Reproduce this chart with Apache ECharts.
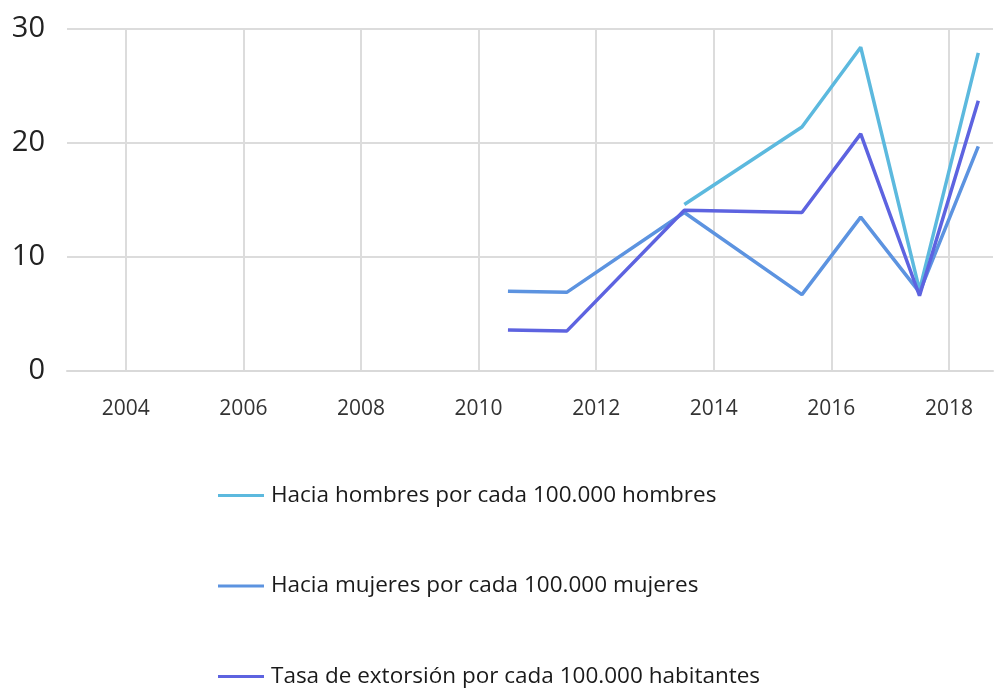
<!DOCTYPE html>
<html>
<head>
<meta charset="utf-8">
<script src="https://cdn.jsdelivr.net/npm/echarts@6/dist/echarts.min.js"></script>
<style>
  html, body { margin: 0; padding: 0; background: #fff; }
  #chart { width: 995px; height: 691px; }
</style>
</head>
<body>
<div id="chart"></div>
<script>
// datos (años a mitad de año)
var years = [2010.5, 2011.5, 2013.5, 2015.5, 2016.5, 2017.5, 2018.5];
var hombres = [null, null, 14.6, 21.4, 28.4, 7.1, 27.9];
var mujeres = [7.0, 6.9, 13.9, 6.7, 13.5, 6.9, 19.7];
var tasa = [3.6, 3.5, 14.1, 13.9, 20.8, 6.6, 23.7];
var seriesNames = [
    'Hacia hombres por cada 100.000 hombres',
    'Hacia mujeres por cada 100.000 mujeres',
    'Tasa de extorsión por cada 100.000 habitantes'
];
var colors = ['#5cb9de', '#5c93e0', '#5d63e0'];

function pairs(vals) {
    var out = [];
    for (var i = 0; i < years.length; i++) {
        if (vals[i] !== null) out.push([years[i], vals[i]]);
    }
    return out;
}

var myChart = echarts.init(document.getElementById('chart'));

function makeSeries(name, vals, color) {
    return {
        name: name,
        type: 'line',
        data: pairs(vals),
        showSymbol: false,
        symbol: 'none',
        lineStyle: { color: color, width: 3.5 },
        itemStyle: { color: color }
    };
}

var option = {
    animation: false,
    textStyle: { fontFamily: 'Open Sans' },
    grid: { left: 67, right: 2, top: 29, bottom: 320 },
    legend: {
        orient: 'vertical',
        left: 213,
        top: 479,
        height: 212,
        itemGap: 67.5,
        icon: 'rect',
        itemWidth: 46,
        itemHeight: 3,
        textStyle: { fontSize: 22.5, color: '#1a1a1a', fontFamily: 'Open Sans', padding: [0, 0, 0, 2] },
        data: seriesNames
    },
    xAxis: {
        type: 'value',
        min: 2003,
        max: 2018.75,
        splitNumber: 8,
        minInterval: 2,
        maxInterval: 2,
        axisLine: { show: true, lineStyle: { color: '#d9d9d9', width: 2 } },
        axisTick: { show: false },
        axisLabel: {
            showMinLabel: false,
            showMaxLabel: false,
            margin: 28,
            fontSize: 21,
            color: '#333',
            formatter: function (v) { return String(v); }
        },
        splitLine: {
            show: true,
            showMinLine: false,
            showMaxLine: false,
            lineStyle: { color: '#dcdcdc', width: 2 }
        }
    },
    yAxis: {
        type: 'value',
        min: 0,
        max: 30,
        interval: 10,
        axisLine: { show: false },
        axisTick: { show: false },
        axisLabel: { margin: 22, fontSize: 29, color: '#222' },
        splitLine: { lineStyle: { color: '#dcdcdc', width: 2 } }
    },
    series: [
        makeSeries(seriesNames[0], hombres, colors[0]),
        makeSeries(seriesNames[1], mujeres, colors[1]),
        makeSeries(seriesNames[2], tasa, colors[2])
    ]
};

myChart.setOption(option);
window.addEventListener('resize', function () {
    myChart.resize();
});
</script>
</body>
</html>
